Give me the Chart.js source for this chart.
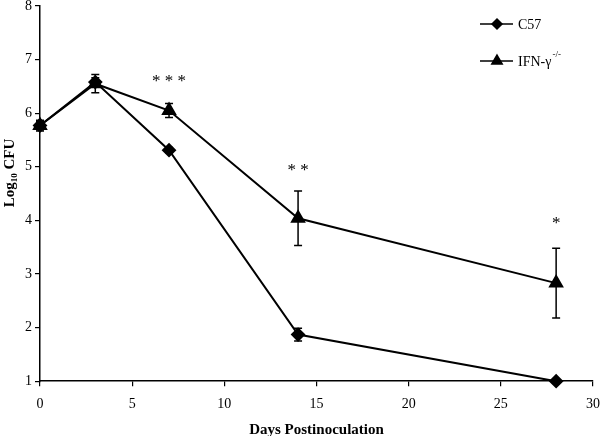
<!DOCTYPE html>
<html>
<head>
<meta charset="utf-8">
<script src="https://cdn.jsdelivr.net/npm/chart.js@4"></script>
<style>
  html, body { margin: 0; padding: 0; background: #fff; }
  #wrap { width: 600px; height: 436px; }
</style>
</head>
<body>
<div id="wrap"><canvas id="cfu_chart"></canvas></div>
<script>
// days after inoculation
const days = [0, 3, 7, 14, 28];
// log10 CFU, wild type
const c57 = [5.77, 6.58, 5.31, 1.87, 1.0];
const c57Err = [0.08, 0.08, 0.05, 0.12, 0];
// log10 CFU, IFN-gamma knockout
const ifn = [5.77, 6.55, 6.05, 4.04, 2.83];
const ifnErr = [0.1, 0.17, 0.13, 0.51, 0.65];
// significance marks
const stars = ['', '', '***', '**', '*'];
const starY = [null, null, 6.6, 4.93, 3.95];

const serif = '"Liberation Serif", "Times New Roman", serif';

// error bars, asterisks, legend and y title
const extras = {
  id: 'extras',
  afterDatasetsDraw(chart) {
    const ctx = chart.ctx;
    const xs = chart.scales.x, ys = chart.scales.y;
    ctx.save();
    ctx.strokeStyle = '#000';
    ctx.lineWidth = 1.5;
    [[c57, c57Err], [ifn, ifnErr]].forEach(([vals, errs]) => {
      vals.forEach((v, i) => {
        if (!errs[i]) return;
        const x = xs.getPixelForValue(days[i]);
        const top = ys.getPixelForValue(v + errs[i]);
        const bot = ys.getPixelForValue(v - errs[i]);
        ctx.beginPath();
        ctx.moveTo(x, top); ctx.lineTo(x, bot);
        ctx.moveTo(x - 4, top); ctx.lineTo(x + 4, top);
        ctx.moveTo(x - 4, bot); ctx.lineTo(x + 4, bot);
        ctx.stroke();
      });
    });

    ctx.fillStyle = '#000';
    ctx.font = '17px ' + serif;
    ctx.textAlign = 'center';
    ctx.textBaseline = 'middle';
    stars.forEach((s, i) => {
      if (!s) return;
      ctx.fillText(s.split('').join(' '), xs.getPixelForValue(days[i]), ys.getPixelForValue(starY[i]));
    });

    // legend
    const items = [
      { y: 24, style: 'rectRot', r: 5, text: 'C57' },
      { y: 61, style: 'triangle', r: 6, text: 'IFN-γ' }
    ];
    items.forEach(it => {
      ctx.beginPath();
      ctx.moveTo(480, it.y); ctx.lineTo(513, it.y);
      ctx.stroke();
      Chart.helpers.drawPoint(ctx, { pointStyle: it.style, radius: it.r, borderWidth: 1 }, 497, it.y);
      ctx.fill();
      ctx.textAlign = 'left';
      ctx.font = '14px ' + serif;
      ctx.fillText(it.text, 518, it.y + 1);
    });
    const w = ctx.measureText('IFN-γ').width;
    ctx.font = '9px ' + serif;
    ctx.fillText('-/-', 518 + w + 1, 55);

    // y axis title with subscript
    ctx.translate(14, 173);
    ctx.rotate(-Math.PI / 2);
    ctx.textBaseline = 'alphabetic';
    const big = 'bold 15px ' + serif, small = 'bold 9px ' + serif;
    ctx.font = big; const w1 = ctx.measureText('Log').width;
    ctx.font = small; const w2 = ctx.measureText('10').width;
    ctx.font = big; const w3 = ctx.measureText(' CFU').width;
    let x0 = -(w1 + w2 + w3) / 2;
    ctx.font = big; ctx.fillText('Log', x0, 0);
    ctx.font = small; ctx.fillText('10', x0 + w1, 3);
    ctx.font = big; ctx.fillText(' CFU', x0 + w1 + w2, 0);
    ctx.restore();
  }
};

new Chart(document.getElementById('cfu_chart'), {
  type: 'line',
  data: {
    datasets: [
      {
        label: 'C57',
        data: days.map((d, i) => ({ x: d, y: c57[i] })),
        borderColor: '#000',
        backgroundColor: '#000',
        borderWidth: 2,
        pointStyle: 'rectRot',
        pointRadius: 6,
        tension: 0,
        clip: false
      },
      {
        label: 'IFN-γ-/-',
        data: days.map((d, i) => ({ x: d, y: ifn[i] })),
        borderColor: '#000',
        backgroundColor: '#000',
        borderWidth: 2,
        pointStyle: 'triangle',
        pointRadius: 7,
        tension: 0,
        clip: false
      }
    ]
  },
  options: {
    responsive: true,
    maintainAspectRatio: false,
    animation: false,
    layout: { autoPadding: false, padding: { top: 0, right: 0, left: 22, bottom: -2 } },
    plugins: {
      legend: { display: false },
      tooltip: { enabled: false }
    },
    scales: {
      x: {
        type: 'linear',
        min: 0, max: 30,
        afterFit: s => { s.paddingRight = 7; },
        ticks: { stepSize: 5, color: '#000', font: { family: serif, size: 14 }, padding: 9.5 },
        grid: { drawOnChartArea: false, color: '#000', tickLength: 5, lineWidth: 1.2 },
        border: { color: '#000', width: 1.5 },
        title: { display: true, text: 'Days Postinoculation', color: '#000',
                 font: { family: serif, size: 15, weight: 'bold', lineHeight: 1 }, padding: { top: 1, bottom: 0 } }
      },
      y: {
        min: 1, max: 8,
        afterFit: s => { s.paddingTop = 6; },
        ticks: { stepSize: 1, color: '#000', font: { family: serif, size: 14, lineHeight: 0.75 }, padding: 3 },
        grid: { drawOnChartArea: false, color: '#000', tickLength: 5, lineWidth: 1.2 },
        border: { color: '#000', width: 1.5 }
      }
    }
  },
  plugins: [extras]
});
</script>
</body>
</html>
